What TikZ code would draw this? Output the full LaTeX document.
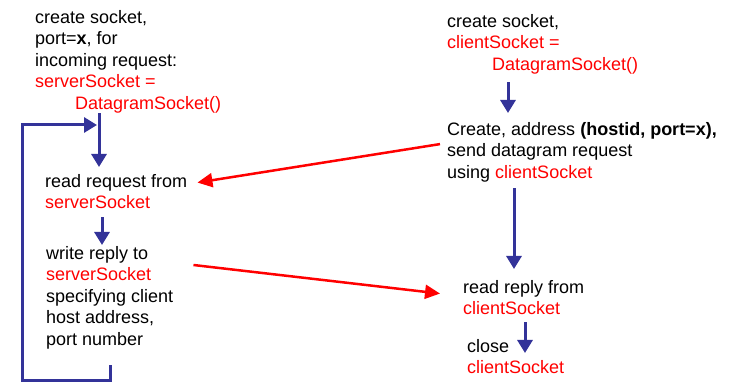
\documentclass[tikz,border=0pt]{standalone}
\usepackage{fontspec}
\setmainfont{Liberation Sans}
\usetikzlibrary{arrows.meta}
\definecolor{flowblue}{RGB}{51,51,153}
\newcommand{\sock}[1]{\textcolor{red}{#1}}

\begin{document}
\begin{tikzpicture}[x=1pt, y=-1pt,
				    txt/.style={anchor=north west, inner sep=0pt, align=left,
				    			text=black, font=\fontsize{18}{21.5}\selectfont},
				    flow/.style={draw=flowblue, line width=3pt,
				    			 -{Triangle[length=13pt,width=15pt]}},
				    msg/.style={draw=red, line width=2.5pt,
				    			-{Triangle[length=15pt,width=14pt]}}]
	\useasboundingbox (0, 0) rectangle (729, 382);

	\node[txt] (s1) at (35, 10) {create socket,\\ port=\textbf{x}, for\\ incoming request:\\ \sock{serverSocket =}\\ \hspace*{40pt}\sock{DatagramSocket()}};
	\node[txt] (s2) at (45, 174) {read request from\\ \sock{serverSocket}};
	\node[txt] (s3) at (46, 246) {write reply to\\ \sock{serverSocket}\\ specifying client\\ host address,\\ port number};
	\node[txt] (c1) at (447, 14) {create socket,\\ \sock{clientSocket =}\\ \hspace*{45pt}\sock{DatagramSocket()}};
	\node[txt] (c2) at (447, 122) {Create, address \textbf{(hostid, port=x),}\\ send datagram request\\ using \sock{clientSocket}};
	\node[txt] (c3) at (463, 280) {read reply from\\ \sock{clientSocket}};
	\node[txt] (c4) at (467, 339) {close\\ \sock{clientSocket}};
	\coordinate (back) at (97, 125);

	\draw[flow] (s1.south -| 99,0) -- ([yshift=7pt]s2.north -| 99,0);
	\draw[flow] ([yshift=-8pt]s2.south -| 102,0) -- ([yshift=1pt]s3.north -| 102,0);
	\draw[flow] ([yshift=-16pt]s3.south -| 110,0) |- (22, 380) |- (back);
	\draw[flow] ([yshift=-8pt]c1.south -| 508,0) -- ([yshift=9pt]c2.north -| 508,0);
	\draw[flow] ([yshift=-6pt]c2.south -| 514,0) -- ([yshift=11pt]c3.north -| 514,0);
	\draw[flow] ([yshift=-7pt]c3.south -| 525,0) -- ([yshift=-14pt]c4.north -| 525,0);

	\draw[msg] ([xshift=-7pt, yshift=8pt]c2.west) -- ([xshift=10pt, yshift=9pt]s2.east);
	\draw[msg] ([xshift=20pt, yshift=-19pt]s3.north east) -- ([xshift=-23pt, yshift=4pt]c3.west);

\end{tikzpicture}
\end{document}
